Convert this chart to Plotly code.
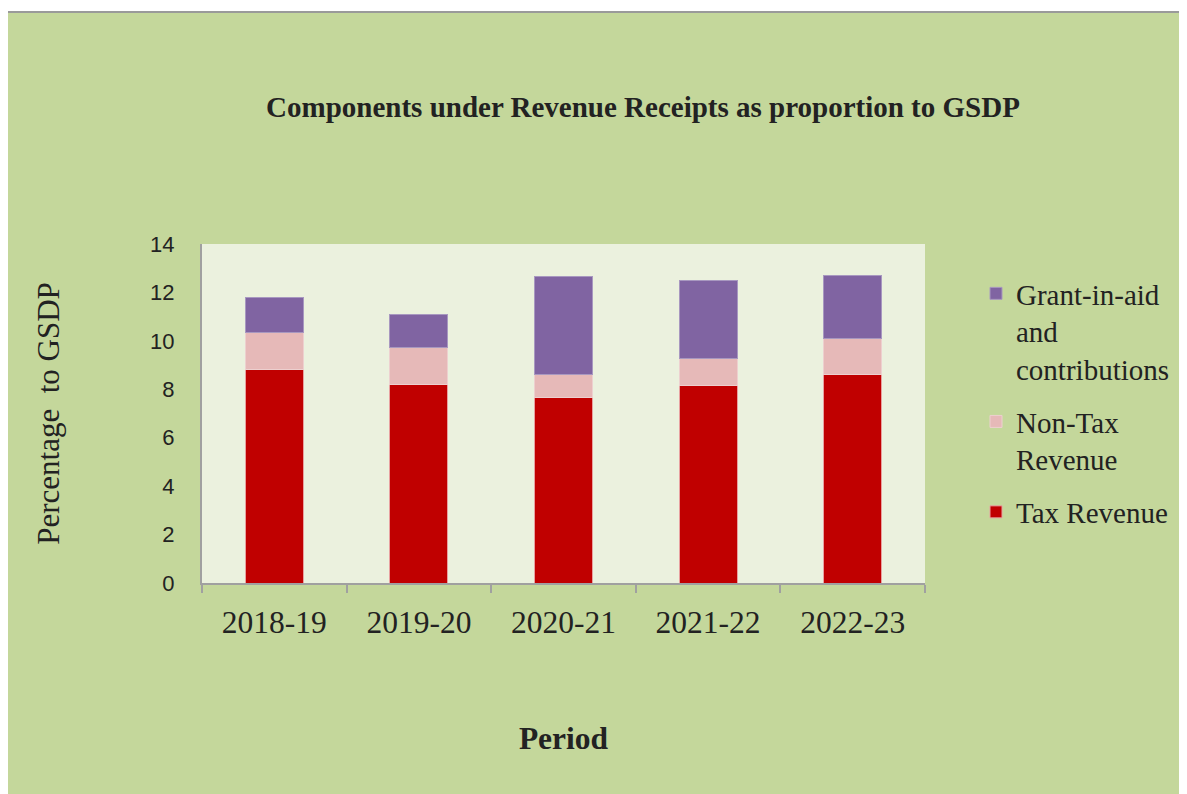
import plotly.graph_objects as go

periods = ["2018-19", "2019-20", "2020-21", "2021-22", "2022-23"]
tax_revenue = [8.82, 8.19, 7.67, 8.14, 8.60]
non_tax_revenue = [1.52, 1.52, 0.93, 1.12, 1.48]
grants = [1.44, 1.37, 4.06, 3.23, 2.63]

series_names = ["Tax Revenue", "Non-Tax<br>Revenue", "Grant-in-aid<br>and<br>contributions"]
series_values = [tax_revenue, non_tax_revenue, grants]
series_colors = ["#C00000", "#E6B9B8", "#8064A2"]
edge_colors = ["#E8A0A0", "#EDD0CF", "#A898C0"]
legend_ranks = [3, 2, 1]

serif = "Liberation Serif, Times New Roman, serif"
sans = "Liberation Sans, Arial, sans-serif"
txt = "#222222"

fig = go.Figure()
for name, vals, col, ec, rk in zip(series_names, series_values, series_colors, edge_colors, legend_ranks):
    fig.add_trace(go.Bar(
        x=periods, y=vals, name=name, legendgroup=name, legendrank=rk,
        marker=dict(color=col, line=dict(color=ec, width=1)),
    ))

# page offset (body margin) of 8 px
OFF = 8
W, H = 1187 - OFF, 794 - OFF
L = 202 - OFF
T = 244 - OFF
R = W - (925 - OFF)
B = H - (583 - OFF)
pw, ph = W - L - R, H - T - B

def px_x(p):
    return (p - OFF - L) / pw

def px_y(p):
    return (H - B - (p - OFF)) / ph

fig.update_layout(
    width=W, height=H,
    margin=dict(l=L, r=R, t=T, b=B, pad=0),
    barmode="stack", bargap=0.6,
    paper_bgcolor="white",
    plot_bgcolor="rgba(0,0,0,0)",
    font=dict(family=serif, color=txt),
    title=dict(
        text="<b>Components under Revenue Receipts as proportion to GSDP</b>",
        font=dict(family=serif, size=29, color=txt),
        x=px_x(643), xref="paper", xanchor="center",
        y=1 - (107 - OFF) / H, yref="container", yanchor="middle",
    ),
    legend=dict(
        x=px_x(976), xanchor="left",
        y=px_y(268), yanchor="top",
        traceorder="grouped",
        tracegroupgap=12,
        valign="top",
        font=dict(family=serif, size=29, color=txt),
        bgcolor="rgba(0,0,0,0)",
        itemclick=False,
    ),
    shapes=[
        dict(type="rect", xref="paper", yref="paper",
             x0=px_x(7), x1=px_x(1200), y0=px_y(810), y1=px_y(12),
             fillcolor="#C4D79B", line=dict(color="#9A9A9A", width=2), layer="below"),
        dict(type="rect", xref="x domain", yref="y domain",
             x0=0, x1=1, y0=0, y1=1,
             fillcolor="#EBF1DE", line=dict(width=0), layer="below"),
    ],
)

fig.update_yaxes(
    range=[0, 14], dtick=2, showgrid=False, zeroline=False,
    showline=True, linecolor="#A0A0A0", linewidth=2,
    ticks="", ticklabelstandoff=21,
    tickfont=dict(family=sans, size=22, color=txt),
    title=dict(text="Percentage  to GSDP", font=dict(family=serif, size=31, color=txt), standoff=81),
)
fig.update_xaxes(
    showgrid=False, showline=True, linecolor="#A0A0A0", linewidth=2,
    ticks="outside", tickson="boundaries", ticklen=8, tickcolor="#A0A0A0", tickwidth=2,
    ticklabelstandoff=10,
    tickfont=dict(family=serif, size=31.5, color=txt),
    title=dict(text="<b>Period</b>", font=dict(family=serif, size=31.5, color=txt), standoff=88),
)

fig.write_html("out.html")
